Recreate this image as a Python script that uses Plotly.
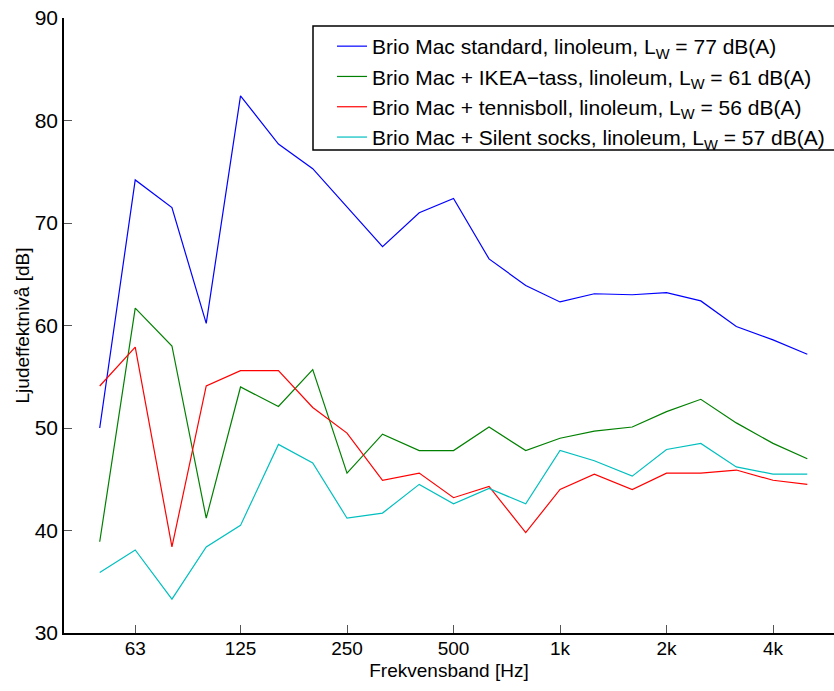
import plotly.graph_objects as go

freqs = [50, 63, 80, 100, 125, 160, 200, 250, 315, 400, 500, 630, 800,
         1000, 1250, 1600, 2000, 2500, 3150, 4000, 5000]

standard = [50.0, 74.2, 71.5, 60.2, 82.4, 77.7, 75.3, 71.6, 67.7, 71.0, 72.4,
            66.5, 63.9, 62.3, 63.1, 63.0, 63.2, 62.4, 59.9, 58.6, 57.2]
ikea = [38.9, 61.7, 58.0, 41.2, 54.0, 52.1, 55.7, 45.6, 49.4, 47.8, 47.8,
        50.1, 47.8, 49.0, 49.7, 50.1, 51.6, 52.8, 50.5, 48.5, 47.0]
tennis = [54.1, 57.9, 38.4, 54.1, 55.6, 55.6, 52.0, 49.5, 44.9, 45.6, 43.2,
          44.3, 39.8, 44.0, 45.5, 44.0, 45.6, 45.6, 45.9, 44.9, 44.5]
socks = [35.9, 38.1, 33.3, 38.4, 40.5, 48.4, 46.6, 41.2, 41.7, 44.5, 42.6,
         44.1, 42.6, 47.8, 46.8, 45.3, 47.9, 48.5, 46.2, 45.5, 45.5]

names = [
    "Brio Mac standard, linoleum, L<sub>W</sub> = 77 dB(A)",
    "Brio Mac + IKEA\u2212tass, linoleum, L<sub>W</sub> = 61 dB(A)",
    "Brio Mac + tennisboll, linoleum, L<sub>W</sub> = 56 dB(A)",
    "Brio Mac + Silent socks, linoleum, L<sub>W</sub> = 57 dB(A)",
]
colors = ["#0000ff", "#008000", "#ff0000", "#00bfbf"]

tick_vals = [63, 125, 250, 500, 1000, 2000, 4000]
tick_text = ["63", "125", "250", "500", "1k", "2k", "4k"]

fig = go.Figure()
for i, (ys, nm, c) in enumerate(zip([standard, ikea, tennis, socks], names, colors)):
    fig.add_trace(go.Scatter(x=freqs, y=ys, mode="lines", name=nm,
                             line=dict(color=c, width=1.2),
                             legendgroup=f"g{i}"))

W, H = 834, 691
ml, mr, mt, mb = 64, 0, 18, 58
pw, ph = W - ml - mr, H - mt - mb

def px(x):
    return (x - ml) / pw

def py(y):
    return 1 - (y - mt) / ph

fig.add_shape(type="rect", xref="paper", yref="paper",
              x0=px(313), x1=px(850), y0=py(150), y1=py(26),
              line=dict(color="black", width=1.5), fillcolor="white",
              layer="below")

sans = "Liberation Sans, Arial, Helvetica, sans-serif"

fig.update_layout(
    width=W, height=H,
    margin=dict(l=ml, r=mr, t=mt, b=mb, autoexpand=False),
    paper_bgcolor="white", plot_bgcolor="rgba(0,0,0,0)",
    font=dict(family=sans, color="black"),
    showlegend=True,
    legend=dict(x=px(332), y=py(26), xanchor="left", yanchor="top",
                bgcolor="rgba(0,0,0,0)", borderwidth=0,
                font=dict(size=21, family=sans),
                tracegroupgap=0),
    xaxis=dict(type="log", range=[1.598, 3.7744], automargin=False,
               tickvals=tick_vals, ticktext=tick_text,
               ticks="inside", ticklen=8, tickcolor="#555555",
               showline=True, linecolor="black", linewidth=1.5,
               showgrid=False, zeroline=False, ticklabelstandoff=-3,
               tickfont=dict(family=sans, size=19),
               title=dict(text="Frekvensband [Hz]", font=dict(family=sans, size=19),
                          standoff=6)),
    yaxis=dict(range=[30, 90], tickvals=[30, 40, 50, 60, 70, 80, 90], automargin=False,
               ticks="inside", ticklen=8, tickcolor="#555555",
               showline=True, linecolor="black", linewidth=1.5,
               showgrid=False, zeroline=False,
               tickfont=dict(family=sans, size=21),
               title=dict(text="Ljudeffektnivå [dB]", font=dict(family=sans, size=19),
                          standoff=0)),
)

fig.write_html("out.html", config={"displayModeBar": False},
               post_script="document.body.style.margin='0';document.body.style.overflow='hidden';")
